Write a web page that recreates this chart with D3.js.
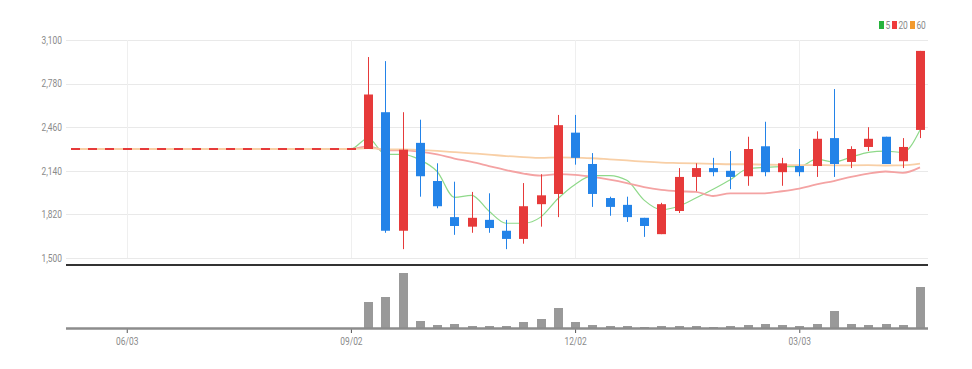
<!DOCTYPE html>
<html>
<head>
<meta charset="utf-8">
<script src="https://cdn.jsdelivr.net/npm/d3@7"></script>
<style>
  body { margin: 0; background: #fff; }
  text { font-family: "Liberation Sans Narrow", "Arial Narrow", "Roboto", sans-serif; }
</style>
</head>
<body>
<svg id="chart" width="972" height="369"></svg>
<script>
// weekly dates, listing starts 2020-09-09 (before that the price is flat at 2,300)
var dates = [
  "2020-05-13","2020-05-20","2020-05-27","2020-06-03","2020-06-10","2020-06-17","2020-06-24",
  "2020-07-01","2020-07-08","2020-07-15","2020-07-22","2020-07-29","2020-08-05","2020-08-12",
  "2020-08-19","2020-08-26","2020-09-02","2020-09-09","2020-09-16","2020-09-23","2020-09-30",
  "2020-10-07","2020-10-14","2020-10-21","2020-10-28","2020-11-04","2020-11-11","2020-11-18",
  "2020-11-25","2020-12-02","2020-12-09","2020-12-16","2020-12-23","2020-12-30","2021-01-06",
  "2021-01-13","2021-01-20","2021-01-27","2021-02-03","2021-02-10","2021-02-17","2021-02-24",
  "2021-03-03","2021-03-10","2021-03-17","2021-03-24","2021-03-31","2021-04-07","2021-04-14",
  "2021-04-21"
];

var openVals = [
  2300,2300,2300,2300,2300,2300,2300,2300,2300,2300,2300,2300,2300,2300,2300,2300,2300,
  2300,2570,1700,2345,2065,1800,1730,1780,1700,1640,1895,1970,2420,2190,1940,1890,1795,
  1675,1845,2095,2160,2140,2100,2320,2130,2175,2175,2380,2205,2315,2390,2210,2440
];
var highVals = [
  2300,2300,2300,2300,2300,2300,2300,2300,2300,2300,2300,2300,2300,2300,2300,2300,2300,
  2975,2945,2570,2515,2195,2060,1985,1975,1780,2050,2115,2550,2550,2270,1950,1950,1795,
  1905,2160,2195,2235,2285,2390,2500,2235,2300,2430,2740,2320,2460,2390,2380,3020
];
var lowVals = [
  2300,2300,2300,2300,2300,2300,2300,2300,2300,2300,2300,2300,2300,2300,2300,2300,2300,
  2300,1685,1565,1950,1865,1670,1685,1685,1565,1605,1730,1800,2185,1875,1810,1765,1655,
  1675,1830,1990,2100,2005,2030,2100,2030,2100,2095,2095,2160,2285,2190,2160,2380
];
var closeVals = [
  2300,2300,2300,2300,2300,2300,2300,2300,2300,2300,2300,2300,2300,2300,2300,2300,2300,
  2700,1700,2295,2100,1880,1735,1795,1720,1640,1880,1960,2475,2235,1970,1875,1800,1735,
  1895,2095,2160,2130,2095,2300,2130,2195,2130,2375,2190,2300,2375,2190,2315,3020
];
var volumeVals = [
  0,0,0,0,0,0,0,0,0,0,0,0,0,0,0,0,0,
  260,310,550,70,30,40,20,20,20,60,90,200,60,30,20,20,10,
  20,20,20,10,20,30,40,30,20,40,170,40,30,40,30,410
];

// moving averages (5 / 20 / 60 weeks)
var ma5 = [
  2300,2300,2300,2300,2300,2300,2300,2300,2300,2300,2300,2300,2300,2300,2300,2300,2300,
  2380,2260,2260,2220,2135,1945,1960,1845,1755,1755,1800,1935,2040,2105,2105,2070,1925,
  1855,1880,1940,2005,2075,2155,2165,2170,2170,2225,2205,2240,2275,2285,2275,2440
];
var ma20 = [
  2300,2300,2300,2300,2300,2300,2300,2300,2300,2300,2300,2300,2300,2300,2300,2300,2300,
  2320,2290,2290,2280,2260,2230,2205,2175,2145,2120,2105,2115,2110,2095,2075,2050,2020,
  2000,1990,1985,1955,1975,1975,1975,1990,2010,2040,2065,2095,2120,2135,2125,2165
];
var ma60 = [
  2300,2300,2300,2300,2300,2300,2300,2300,2300,2300,2300,2300,2300,2300,2300,2300,2300,
  2307,2297,2297,2293,2286,2277,2268,2259,2248,2241,2235,2238,2237,2232,2224,2216,2207,
  2200,2197,2194,2191,2188,2188,2185,2183,2181,2182,2180,2180,2181,2179,2180,2192
];

var priceTicks = [1500, 1820, 2140, 2460, 2780, 3100];
var dateTicks = ["2020-06-03", "2020-09-02", "2020-12-02", "2021-03-03"];

var maNames = ["5", "20", "60"];
var maLineColors = ["#8fd98a", "#f4a3a3", "#f8cfa6"];
var maLegendColors = ["#27b33c", "#ef3b3b", "#f39a2c"];

var upColor = "#e63a3a";
var downColor = "#2383e8";

var parseDate = d3.timeParse("%Y-%m-%d");

var rows = dates.map(function(d, i){
    return {
        date: parseDate(d),
        open: openVals[i],
        high: highVals[i],
        low: lowVals[i],
        close: closeVals[i],
        volume: volumeVals[i],
        ma: [ma5[i], ma20[i], ma60[i]]
    };
});

var plotLeft = 66, plotRight = 928;
var priceTop = 40, priceBottom = 258;
var volTop = 268, volBottom = 328;
var narrow = "scale(0.8,1)";   // the source font is a condensed face

var svg = d3.select("#chart");

var x = d3.scaleTime()
    .domain([rows[0].date, rows[rows.length - 1].date])
    .range([75, 920]);

var y = d3.scaleLinear()
    .domain([1500, 3100])
    .range([priceBottom, priceTop]);

var yVol = d3.scaleLinear()
    .domain([0, 600])
    .range([volBottom, volTop]);

var tickDates = dateTicks.map(parseDate);

// grid
svg.append("g").selectAll("line")
    .data(priceTicks)
    .enter().append("line")
    .attr("x1", plotLeft).attr("x2", plotRight)
    .attr("y1", function(d){ return Math.round(y(d)) + 0.5; })
    .attr("y2", function(d){ return Math.round(y(d)) + 0.5; })
    .attr("stroke", "#e9e9e9")
    .attr("stroke-width", 1);

svg.append("g").selectAll("line")
    .data(tickDates)
    .enter().append("line")
    .attr("x1", function(d){ return Math.round(x(d)) + 0.5; })
    .attr("x2", function(d){ return Math.round(x(d)) + 0.5; })
    .attr("y1", priceTop).attr("y2", priceBottom)
    .attr("stroke", "#efefef")
    .attr("stroke-width", 1);

// price axis labels
var yAxis = d3.axisLeft(y)
    .tickValues(priceTicks)
    .tickFormat(d3.format(","))
    .tickSize(0)
    .tickPadding(0);

var yAxisG = svg.append("g")
    .attr("transform", "translate(62,0)")
    .call(yAxis);
yAxisG.select(".domain").remove();
yAxisG.selectAll("text")
    .attr("fill", "#8a8a8a")
    .attr("transform", narrow)
    .style("font-size", "10.5px");

// moving average lines
maNames.forEach(function(name, k){
    var line = d3.line()
        .x(function(d){ return x(d.date); })
        .y(function(d){ return y(d.ma[k]); })
        .curve(d3.curveMonotoneX);
    svg.append("path")
        .datum(rows)
        .attr("d", line)
        .attr("fill", "none")
        .attr("stroke", maLineColors[k])
        .attr("stroke-width", k == 0 ? 1.2 : 1.8);
});

// candles
var candleW = 9;
var candles = svg.append("g").selectAll("g")
    .data(rows)
    .enter().append("g");

candles.append("line")
    .attr("x1", function(d){ return Math.round(x(d.date)) + 0.5; })
    .attr("x2", function(d){ return Math.round(x(d.date)) + 0.5; })
    .attr("y1", function(d){ return y(d.high); })
    .attr("y2", function(d){ return y(d.low); })
    .attr("stroke", function(d){ return d.close >= d.open ? upColor : downColor; })
    .attr("stroke-width", 1);

candles.append("rect")
    .attr("x", function(d){ return Math.round(x(d.date)) - (candleW - 1) / 2; })
    .attr("y", function(d){ return y(Math.max(d.open, d.close)) - (d.open == d.close ? 1 : 0); })
    .attr("width", candleW)
    .attr("height", function(d){ return Math.max(2, Math.abs(y(d.open) - y(d.close))); })
    .attr("fill", function(d){ return d.close >= d.open ? upColor : downColor; });

// separator between price and volume
svg.append("line")
    .attr("x1", plotLeft).attr("x2", plotRight)
    .attr("y1", 265).attr("y2", 265)
    .attr("stroke", "#333")
    .attr("stroke-width", 2);

// volume bars
svg.append("g").selectAll("rect")
    .data(rows.filter(function(d){ return d.volume > 0; }))
    .enter().append("rect")
    .attr("x", function(d){ return Math.round(x(d.date)) - (candleW - 1) / 2; })
    .attr("y", function(d){ return yVol(d.volume); })
    .attr("width", candleW)
    .attr("height", function(d){ return volBottom - yVol(d.volume); })
    .attr("fill", "#999");

// date axis
var xAxis = d3.axisBottom(x)
    .tickValues(tickDates)
    .tickFormat(d3.timeFormat("%m/%d"))
    .tickSize(4)
    .tickPadding(5);

var xAxisG = svg.append("g")
    .attr("transform", "translate(0," + (volBottom + 1) + ")")
    .call(xAxis);
xAxisG.select(".domain").remove();
xAxisG.selectAll(".tick line").attr("stroke", "#555");
xAxisG.selectAll("text")
    .attr("fill", "#8a8a8a")
    .attr("transform", narrow)
    .style("font-size", "10.5px");

svg.append("line")
    .attr("x1", plotLeft).attr("x2", plotRight)
    .attr("y1", volBottom + 0.5).attr("y2", volBottom + 0.5)
    .attr("stroke", "#8c8c8c")
    .attr("stroke-width", 2.5);

// legend
var legendX = [879, 892, 910];
var legend = svg.append("g").selectAll("g")
    .data(maNames)
    .enter().append("g")
    .attr("transform", function(d, i){ return "translate(" + legendX[i] + ",21)"; });

legend.append("rect")
    .attr("width", 5).attr("height", 8)
    .attr("fill", function(d, i){ return maLegendColors[i]; });

legend.append("text")
    .attr("x", 8).attr("y", 8)
    .attr("fill", "#8a8a8a")
    .attr("transform", narrow)
    .style("font-size", "10.5px")
    .text(function(d){ return d; });
</script>
</body>
</html>
